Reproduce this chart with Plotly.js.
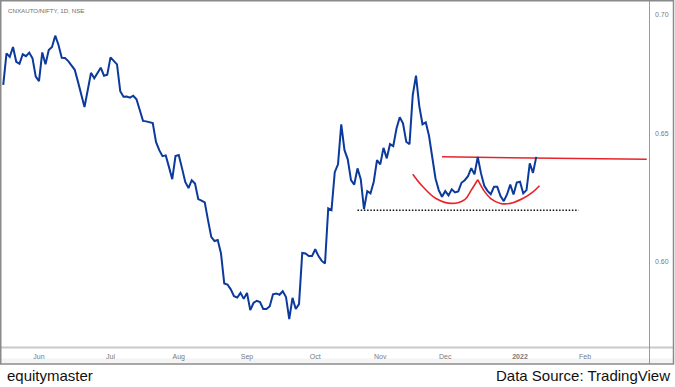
<!DOCTYPE html>
<html>
<head>
<meta charset="utf-8">
<script src="https://cdn.plot.ly/plotly-3.0.1.min.js"></script>
<style>
html,body{margin:0;padding:0;background:#ffffff;}
#chart{width:675px;height:387px;}
</style>
</head>
<body>
<div id="chart"></div>
<script>
// ---- Data ----
const dates = [
'2021-05-17','2021-05-18','2021-05-19','2021-05-20','2021-05-21','2021-05-24','2021-05-25','2021-05-26','2021-05-27','2021-05-28','2021-05-31',
'2021-06-01','2021-06-02','2021-06-03','2021-06-04','2021-06-07','2021-06-08','2021-06-09','2021-06-10','2021-06-11','2021-06-14','2021-06-15','2021-06-16','2021-06-17','2021-06-18','2021-06-21','2021-06-22','2021-06-23','2021-06-24','2021-06-25','2021-06-28','2021-06-29','2021-06-30',
'2021-07-01','2021-07-02','2021-07-05','2021-07-06','2021-07-07','2021-07-08','2021-07-09','2021-07-12','2021-07-13','2021-07-14','2021-07-15','2021-07-16','2021-07-19','2021-07-20','2021-07-22','2021-07-23','2021-07-26','2021-07-27','2021-07-28','2021-07-29','2021-07-30',
'2021-08-02','2021-08-03','2021-08-04','2021-08-05','2021-08-06','2021-08-09','2021-08-10','2021-08-11','2021-08-12','2021-08-13','2021-08-16','2021-08-17','2021-08-18','2021-08-20','2021-08-23','2021-08-24','2021-08-25','2021-08-26','2021-08-27','2021-08-30','2021-08-31',
'2021-09-01','2021-09-02','2021-09-03','2021-09-06','2021-09-07','2021-09-08','2021-09-09','2021-09-13','2021-09-14','2021-09-15','2021-09-16','2021-09-17','2021-09-20','2021-09-21','2021-09-22','2021-09-23','2021-09-24','2021-09-27','2021-09-28','2021-09-29','2021-09-30',
'2021-10-01','2021-10-04','2021-10-05','2021-10-06','2021-10-07','2021-10-08','2021-10-11','2021-10-12','2021-10-13','2021-10-14','2021-10-18','2021-10-19','2021-10-20','2021-10-21','2021-10-22','2021-10-25','2021-10-26','2021-10-27','2021-10-28','2021-10-29',
'2021-11-01','2021-11-02','2021-11-03','2021-11-04','2021-11-08','2021-11-09','2021-11-10','2021-11-11','2021-11-12','2021-11-15','2021-11-16','2021-11-17','2021-11-18','2021-11-22','2021-11-23','2021-11-24','2021-11-25','2021-11-26','2021-11-29','2021-11-30',
'2021-12-01','2021-12-02','2021-12-03','2021-12-06','2021-12-07','2021-12-08','2021-12-09','2021-12-10','2021-12-13','2021-12-14','2021-12-15','2021-12-16','2021-12-17','2021-12-20','2021-12-21','2021-12-22','2021-12-23','2021-12-24','2021-12-27','2021-12-28','2021-12-29','2021-12-30','2021-12-31',
'2022-01-03','2022-01-04','2022-01-05','2022-01-06','2022-01-07','2022-01-10'
];
const ratio = [
0.6700,0.6834,0.6819,0.6861,0.6798,0.6790,0.6830,0.6822,0.6837,0.6813,0.6735,
0.6716,0.6838,0.6787,0.6848,0.6861,0.6910,0.6870,0.6815,0.6814,0.6801,0.6780,0.6764,0.6713,0.6665,0.6608,0.6679,0.6751,0.6728,0.6751,0.6773,0.6739,0.6743,
0.6817,0.6801,0.6787,0.6674,0.6651,0.6652,0.6647,0.6655,0.6640,0.6596,0.6551,0.6549,0.6546,0.6542,0.6465,0.6432,0.6408,0.6411,0.6364,0.6316,0.6408,
0.6412,0.6360,0.6305,0.6281,0.6312,0.6299,0.6238,0.6232,0.6225,0.6156,0.6092,0.6076,0.6080,0.6029,0.5917,0.5913,0.5895,0.5870,0.5865,0.5882,0.5860,
0.5882,0.5819,0.5845,0.5853,0.5848,0.5823,0.5823,0.5833,0.5877,0.5880,0.5875,0.5888,0.5867,0.5786,0.5864,0.5823,0.5841,0.6031,0.6029,0.6019,0.6019,
0.6045,0.6019,0.6001,0.5991,0.6202,0.6195,0.6344,0.6375,0.6537,0.6432,0.6395,0.6312,0.6295,0.6359,0.6316,0.6199,0.6269,0.6260,0.6306,0.6392,
0.6375,0.6441,0.6399,0.6456,0.6448,0.6520,0.6566,0.6541,0.6466,0.6456,0.6658,0.6739,0.6613,0.6537,0.6545,0.6490,0.6399,0.6319,0.6273,0.6247,
0.6269,0.6252,0.6276,0.6264,0.6268,0.6302,0.6312,0.6328,0.6360,0.6335,0.6405,0.6339,0.6290,0.6270,0.6257,0.6286,0.6286,0.6250,0.6230,0.6256,0.6295,0.6256,0.6303,
0.6306,0.6260,0.6273,0.6379,0.6341,0.6405
];
const holidays = ['2021-07-21','2021-08-19','2021-09-10','2021-10-15','2021-11-05','2021-11-19','2022-01-26'];

const resistanceDates = ['2021-11-30','2022-02-28'];
const resistanceValues = [0.6405, 0.6395];
const supportDates = ['2021-10-21','2022-01-28'];
const supportValues = [0.6194, 0.6194];
const cup1Dates = ['2021-11-16','2021-11-22','2021-11-26','2021-12-03','2021-12-09','2021-12-13','2021-12-15'];
const cup1Values = [0.6336,0.6288,0.6241,0.6221,0.6236,0.6273,0.6314];
const cup2Dates = ['2021-12-15','2021-12-17','2021-12-21','2021-12-24','2021-12-29','2022-01-04','2022-01-07','2022-01-11'];
const cup2Values = [0.6314,0.6269,0.6240,0.6221,0.6221,0.6241,0.6266,0.6290];

const xTickDates = ['2021-06-01','2021-07-01','2021-08-02','2021-09-01','2021-10-01','2021-11-01','2021-12-01','2022-01-03','2022-02-01'];
const xTickLabels = ['Jun','Jul','Aug','Sep','Oct','Nov','Dec','<b>2022</b>','Feb'];
const yTickVals = [0.60, 0.65, 0.70];
const yTickLabels = ['0.60','0.65','0.70'];

// ---- Layout helpers (pixel -> paper) ----
const W = 675, H = 387, ML = 2, MR = 26, MT = 2, MB = 40;
const PW = W - ML - MR, PH = H - MT - MB;
const px = x => (x - ML) / PW;
const py = y => (H - MB - y) / PH;

const BLUE = '#0c3a9c';
const RED = '#e8232b';
const tickFont = {family: 'Liberation Sans, Arial, sans-serif', size: 7, color: '#7a7a7a'};

const traces = [
  {x: supportDates, y: supportValues, type: 'scatter', mode: 'lines',
   line: {color: '#111111', width: 1.5, dash: '1.5px,1.7px'}, hoverinfo: 'skip'},
  {x: resistanceDates, y: resistanceValues, type: 'scatter', mode: 'lines',
   line: {color: RED, width: 1.5}, hoverinfo: 'skip'},
  {x: cup1Dates, y: cup1Values, type: 'scatter', mode: 'lines',
   line: {color: RED, width: 1.6, shape: 'spline', smoothing: 1}, hoverinfo: 'skip'},
  {x: cup2Dates, y: cup2Values, type: 'scatter', mode: 'lines',
   line: {color: RED, width: 1.6, shape: 'spline', smoothing: 1}, hoverinfo: 'skip'},
  {x: dates, y: ratio, type: 'scatter', mode: 'lines',
   line: {color: BLUE, width: 2}, name: 'CNXAUTO/NIFTY'}
];

const layout = {
  width: W, height: H,
  margin: {l: ML, r: MR, t: MT, b: MB, pad: 0},
  paper_bgcolor: '#ffffff', plot_bgcolor: '#ffffff',
  showlegend: false,
  xaxis: {
    type: 'date',
    range: ['2021-05-14 14:46', '2022-02-28 16:34'],
    rangebreaks: [{bounds: ['sat', 'mon']}, {values: holidays}],
    tickmode: 'array', tickvals: xTickDates, ticktext: xTickLabels,
    tickfont: tickFont, ticks: '', ticklabelstandoff: 4,
    showgrid: false, zeroline: false, showline: false, fixedrange: true
  },
  yaxis: {
    type: 'log', side: 'right',
    range: [Math.log10(0.5686), Math.log10(0.70573)],
    tickmode: 'array', tickvals: yTickVals, ticktext: yTickLabels,
    tickfont: tickFont, ticks: '', ticklabelstandoff: 5,
    showgrid: false, zeroline: false, showline: false, fixedrange: true
  },
  shapes: [
    {type: 'rect', xref: 'paper', yref: 'paper', x0: px(1), x1: px(673), y0: py(363), y1: py(358.5),
     fillcolor: '#f4f4f4', line: {width: 0}, layer: 'below'},
    {type: 'line', xref: 'paper', yref: 'paper', x0: px(0), x1: px(674), y0: py(347.5), y1: py(347.5),
     line: {color: '#c9c9c9', width: 2}},
    {type: 'line', xref: 'paper', yref: 'paper', x0: px(649.5), x1: px(649.5), y0: py(0), y1: py(364),
     line: {color: '#9a9a9a', width: 1}},
    {type: 'rect', xref: 'paper', yref: 'paper', x0: px(0.75), x1: px(673.5), y0: py(0.75), y1: py(364),
     line: {color: '#8a8a8a', width: 1.5}, fillcolor: 'rgba(0,0,0,0)'}
  ],
  annotations: [
    {text: 'CNXAUTO/NIFTY, 1D, NSE', xref: 'paper', yref: 'paper', x: px(6), y: py(10.5),
     xanchor: 'left', yanchor: 'middle', showarrow: false,
     font: {family: 'Liberation Sans, Arial, sans-serif', size: 6.2, color: '#6e6e6e'}},
    {text: 'equitymaster', xref: 'paper', yref: 'paper', x: px(5), y: py(375),
     xanchor: 'left', yanchor: 'middle', showarrow: false,
     font: {family: 'Liberation Sans, Arial, sans-serif', size: 15, color: '#111111'}},
    {text: 'Data Source: TradingView', xref: 'paper', yref: 'paper', x: px(672), y: py(375),
     xanchor: 'right', yanchor: 'middle', showarrow: false,
     font: {family: 'Liberation Sans, Arial, sans-serif', size: 15, color: '#111111'}}
  ]
};

Plotly.newPlot('chart', traces, layout, {staticPlot: true, displayModeBar: false});
</script>
</body>
</html>
